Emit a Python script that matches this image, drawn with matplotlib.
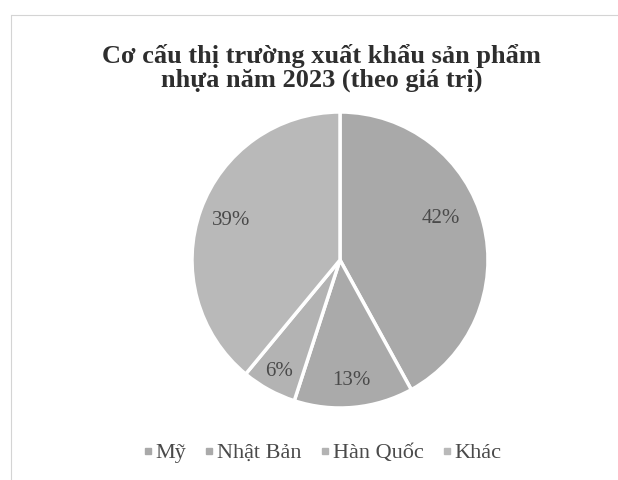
import matplotlib.pyplot as plt
from matplotlib.lines import Line2D
import numpy as np

plt.rcParams['font.family'] = ['Liberation Serif', 'DejaVu Serif']

# données
markets = ["Mỹ", "Nhật Bản", "Hàn Quốc", "Khác"]
shares = [42, 13, 6, 39]
colors = ["#a9a9a9", "#aaaaaa", "#b3b3b3", "#b9b9b9"]
label_dist = [0.74, 0.82, 0.86, 0.78]  # distance des étiquettes au centre
label_shift = [8, 0, 0, 0]  # décalage angulaire (degrés) façon Excel

fig = plt.figure(figsize=(6.18, 4.8), dpi=100)
fig.patch.set_facecolor("white")

# cadre léger (haut et gauche seulement visibles)
fig.add_artist(Line2D([12/618, 1], [1-15/480, 1-15/480], color="#d4d4d4", lw=0.8))
fig.add_artist(Line2D([11/618, 11/618], [0, 1-15/480], color="#d4d4d4", lw=0.8))

fig.text(0.52, 1-68/480, "Cơ cấu thị trường xuất khẩu sản phẩm\nnhựa năm 2023 (theo giá trị)",
         ha="center", va="center", fontsize=19, fontweight="bold", color="#2e2e2e",
         linespacing=0.98)

R = 148
ax = fig.add_axes([(340-R)/618, (480-260-R)/480, 2*R/618, 2*R/480])
wedges, _ = ax.pie(shares, colors=colors, startangle=90, counterclock=False,
                   wedgeprops=dict(edgecolor="white", linewidth=2.5))
ax.set_xlim(-1, 1)
ax.set_ylim(-1, 1)
ax.set_aspect("equal")
ax.axis("off")

for w, v, d, s in zip(wedges, shares, label_dist, label_shift):
    ang = np.deg2rad((w.theta1 + w.theta2) / 2 + s)
    ax.text(d*np.cos(ang), d*np.sin(ang), f"{v}%", ha="center", va="center",
            fontsize=15, color="#4a4a4a")

handles = [Line2D([], [], marker="s", ls="", markersize=4.5, color=c) for c in colors]
fig.legend(handles, markets, loc="center", bbox_to_anchor=(323/618, 1-453/480),
           ncol=4, frameon=False, fontsize=16, handlelength=0.3, handletextpad=0.2,
           columnspacing=0.9, labelcolor="#4a4a4a")

fig.savefig("out.png", dpi=100)
